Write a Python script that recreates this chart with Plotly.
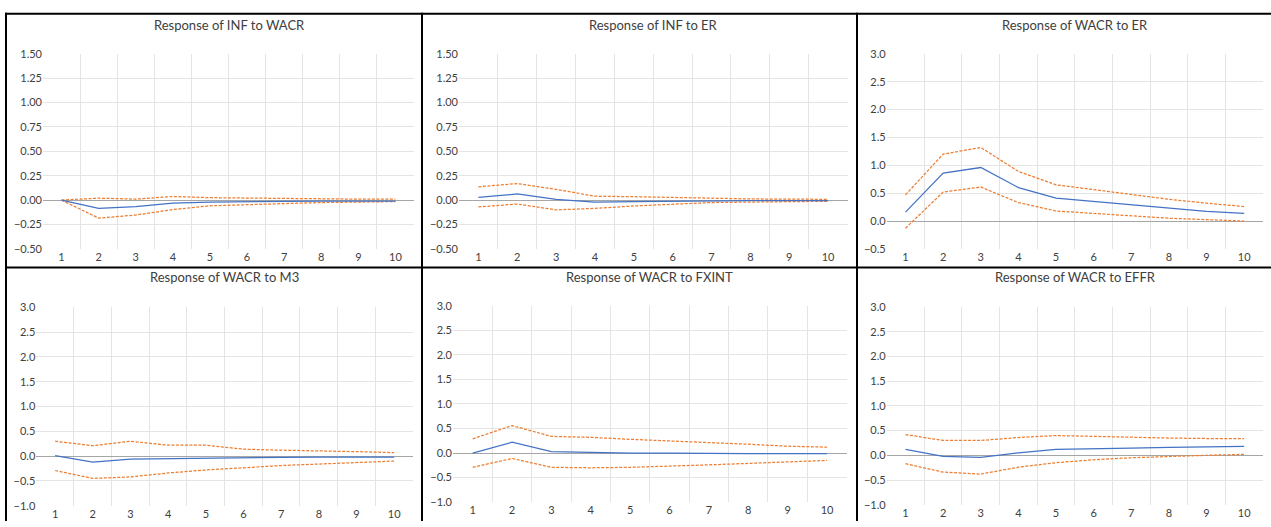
import plotly.graph_objects as go

# ---------------- data ----------------
periods = list(range(1, 11))

titles = [
    "Response of INF to WACR",
    "Response of INF to ER",
    "Response of WACR to ER",
    "Response of WACR to M3",
    "Response of WACR to FXINT",
    "Response of WACR to EFFR",
]

inf_wacr_resp = [0.0, -0.085, -0.068, -0.03, -0.02, -0.015, -0.012, -0.01, -0.01, -0.01]
inf_wacr_upper = [0.0, 0.02, 0.01, 0.037, 0.025, 0.02, 0.015, 0.01, 0.01, 0.01]
inf_wacr_lower = [0.0, -0.185, -0.153, -0.097, -0.058, -0.045, -0.035, -0.025, -0.02, -0.015]

inf_er_resp = [0.027, 0.063, 0.007, -0.02, -0.015, -0.01, -0.006, -0.005, -0.005, -0.005]
inf_er_upper = [0.137, 0.17, 0.11, 0.04, 0.035, 0.03, 0.02, 0.012, 0.01, 0.008]
inf_er_lower = [-0.07, -0.04, -0.1, -0.085, -0.06, -0.04, -0.025, -0.02, -0.015, -0.012]

wacr_er_resp = [0.16, 0.86, 0.96, 0.60, 0.41, 0.35, 0.29, 0.23, 0.175, 0.135]
wacr_er_upper = [0.47, 1.20, 1.32, 0.89, 0.65, 0.56, 0.47, 0.39, 0.32, 0.26]
wacr_er_lower = [-0.13, 0.52, 0.61, 0.33, 0.18, 0.135, 0.09, 0.05, 0.025, 0.0]

wacr_m3_resp = [0.01, -0.12, -0.06, -0.05, -0.03, -0.03, -0.025, -0.02, -0.02, -0.02]
wacr_m3_upper = [0.30, 0.21, 0.30, 0.22, 0.22, 0.14, 0.12, 0.11, 0.09, 0.07]
wacr_m3_lower = [-0.29, -0.45, -0.42, -0.34, -0.28, -0.23, -0.19, -0.16, -0.13, -0.10]

wacr_fxint_resp = [0.0, 0.22, 0.03, 0.01, 0.0, 0.0, -0.01, -0.01, -0.01, -0.01]
wacr_fxint_upper = [0.29, 0.56, 0.34, 0.32, 0.28, 0.25, 0.22, 0.18, 0.14, 0.12]
wacr_fxint_lower = [-0.29, -0.11, -0.29, -0.30, -0.29, -0.27, -0.24, -0.21, -0.18, -0.15]

wacr_effr_resp = [0.12, -0.02, -0.04, 0.05, 0.12, 0.14, 0.145, 0.16, 0.17, 0.18]
wacr_effr_upper = [0.42, 0.30, 0.30, 0.36, 0.40, 0.38, 0.36, 0.35, 0.34, 0.34]
wacr_effr_lower = [-0.17, -0.34, -0.38, -0.24, -0.15, -0.09, -0.05, -0.02, 0.0, 0.02]

y_ranges = [[-0.5, 1.5], [-0.5, 1.5], [-0.5, 3.0], [-1.0, 3.0], [-1.0, 3.0], [-1.0, 3.0]]
y_steps = [0.25, 0.25, 0.5, 0.5, 0.5, 0.5]
y_formats = [".2f", ".2f", ".1f", ".1f", ".1f", ".1f"]

series = [
    (inf_wacr_resp, inf_wacr_upper, inf_wacr_lower),
    (inf_er_resp, inf_er_upper, inf_er_lower),
    (wacr_er_resp, wacr_er_upper, wacr_er_lower),
    (wacr_m3_resp, wacr_m3_upper, wacr_m3_lower),
    (wacr_fxint_resp, wacr_fxint_upper, wacr_fxint_lower),
    (wacr_effr_resp, wacr_effr_upper, wacr_effr_lower),
]

# ---------------- layout (pixels) ----------------
W, H = 1271, 527
boxes = [  # x0, x1, ytop, ybottom
    (43, 414, 48, 248),
    (459, 847.5, 48, 248),
    (886.7, 1263, 48, 248),
    (36.3, 413, 308, 511.3),
    (453, 846.7, 306.3, 507.7),
    (886.7, 1263, 307.7, 510.3),
]
title_pos = [(229, 18), (653.5, 18), (1075, 18), (224, 277), (650, 277), (1075, 277)]

FONT = "Lato"
TEXT = "#404040"
GRID = "#E4E4E4"
AXIS = "#A6A6A6"
BLUE = "#4472C4"
ORANGE = "#ED7D31"

fig = go.Figure()
layout = {}
annotations = []
for i, (resp, upper, lower) in enumerate(series):
    ax = "" if i == 0 else str(i + 1)
    for vals, color, dash, w in [
        (upper, ORANGE, "3px,1.5px", 1.25),
        (lower, ORANGE, "3px,1.5px", 1.25),
        (resp, BLUE, "solid", 1.25),
    ]:
        fig.add_trace(go.Scatter(
            x=periods, y=vals, mode="lines",
            line=dict(color=color, width=w, dash=dash),
            xaxis="x" + ax, yaxis="y" + ax,
            showlegend=False, hoverinfo="skip",
        ))
    x0, x1, yt, yb = boxes[i]
    layout["xaxis" + ax] = dict(
        domain=[x0 / W, x1 / W], anchor="y" + ax,
        range=[0.5, 10.5], tickmode="array", tickvals=periods,
        showgrid=False, zeroline=False, showline=False, ticks="",
        tickfont=dict(family=FONT, size=11, color=TEXT),
        minor=dict(tickmode="array", tickvals=[p + 0.5 for p in periods[:-1]],
                   showgrid=True, gridcolor=GRID, gridwidth=1, ticks=""),
        fixedrange=True,
    )
    yr = y_ranges[i]
    layout["yaxis" + ax] = dict(
        domain=[1 - yb / H, 1 - yt / H], anchor="x" + ax,
        range=yr, tickmode="linear", tick0=yr[0], dtick=y_steps[i],
        tickformat=y_formats[i],
        showgrid=True, gridcolor=GRID, gridwidth=1,
        zeroline=True, zerolinecolor=AXIS, zerolinewidth=1,
        showline=False, ticks="",
        tickfont=dict(family=FONT, size=11, color=TEXT),
        fixedrange=True,
    )
    tx, ty = title_pos[i]
    annotations.append(dict(
        text=titles[i], x=tx / W, y=1 - ty / H, xref="paper", yref="paper",
        xanchor="center", yanchor="middle", showarrow=False,
        font=dict(family=FONT, size=13, color=TEXT),
    ))

# panel borders
shapes = []
def hline(y, xa, xb):
    shapes.append(dict(type="line", xref="paper", yref="paper",
                       x0=xa / W, x1=xb / W, y0=1 - y / H, y1=1 - y / H,
                       line=dict(color="black", width=2)))
def vline(x, ya, yb):
    shapes.append(dict(type="line", xref="paper", yref="paper",
                       x0=x / W, x1=x / W, y0=1 - ya / H, y1=1 - yb / H,
                       line=dict(color="black", width=2)))
hline(7, 5, W)
hline(267, 5, W)
vline(6, 6, H)
vline(422, 6, H)
vline(857, 6, H)

fig.update_layout(
    width=W, height=H,
    margin=dict(l=0, r=0, t=0, b=0),
    paper_bgcolor="white", plot_bgcolor="white",
    annotations=annotations, shapes=shapes,
    font=dict(family=FONT, color=TEXT),
    **layout,
)

fig.write_html("out.html", config={"displayModeBar": False})
